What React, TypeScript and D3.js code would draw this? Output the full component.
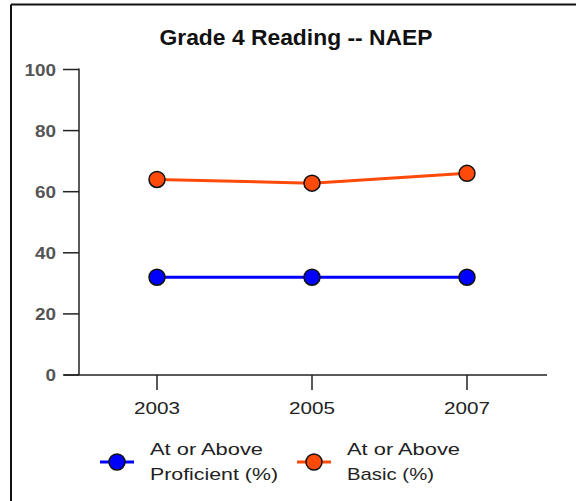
import React from 'react';
import * as d3 from 'd3';

// Chart data
const years = ['2003', '2005', '2007'];
const proficient = [32, 32, 32];
const basic = [64, 62.8, 66];
const yTicks = [0, 20, 40, 60, 80, 100];

const seriesList = [
  { name: ['At or Above', 'Proficient (%)'], values: proficient, color: '#0000ff' },
  { name: ['At or Above', 'Basic (%)'], values: basic, color: '#ff4a0a' },
];

const App = () => {
  const width = 576;
  const height = 501;

  // axis geometry
  const axisLeft = 79;
  const axisRight = 547;
  const y0 = 375;
  const y100 = 69.5;

  const xScale = d3.scalePoint<string>()
    .domain(years)
    .range([157, 467]);

  const yScale = d3.scaleLinear()
    .domain([0, 100])
    .range([y0, y100]);

  const line = d3.line<number>()
    .x((_, i) => xScale(years[i]) as number)
    .y(d => yScale(d));

  const font = '"Liberation Sans", Arial, Helvetica, sans-serif';

  return (
    <div style={{ position: 'fixed', left: 0, top: 0 }}>
      <svg width={width} height={height} style={{ display: 'block', background: '#fff' }}>
        {/* frame */}
        <line x1={11} y1={4.5} x2={width} y2={4.5} stroke="#111" strokeWidth={2} />
        <line x1={11} y1={4.5} x2={11} y2={height} stroke="#111" strokeWidth={2} />

        {/* title */}
        <text x={296} y={45} textAnchor="middle" fontFamily={font} fontWeight="bold"
          fontSize={22.5} fill="#111" textLength={273} lengthAdjust="spacingAndGlyphs">
          Grade 4 Reading -- NAEP
        </text>

        {/* y axis */}
        <line x1={axisLeft} y1={y100 - 1} x2={axisLeft} y2={y0} stroke="#222" strokeWidth={1.5} />
        {yTicks.map(t => (
          <g key={t} transform={`translate(0,${yScale(t)})`}>
            <line x1={63} x2={axisLeft} stroke="#222" strokeWidth={1.5} />
            <text x={56} y={6} textAnchor="end" fontFamily={font} fontWeight="bold"
              fontSize={16} fill="#555" textLength={String(t).length * 10.5}
              lengthAdjust="spacingAndGlyphs">{t}</text>
          </g>
        ))}

        {/* x axis */}
        <line x1={64} y1={y0} x2={axisRight} y2={y0} stroke="#222" strokeWidth={1.5} />
        {years.map(yr => (
          <g key={yr} transform={`translate(${xScale(yr)},${y0})`}>
            <line y1={0} y2={15} stroke="#222" strokeWidth={1.5} />
            <text y={39} textAnchor="middle" fontFamily={font} fontSize={17} fill="#222"
              textLength={46} lengthAdjust="spacingAndGlyphs">{yr}</text>
          </g>
        ))}

        {/* series */}
        {seriesList.map(s => (
          <g key={s.name[1]}>
            <path d={line(s.values) || ''} fill="none" stroke={s.color} strokeWidth={3} />
            {s.values.map((v, i) => (
              <circle key={i} cx={xScale(years[i])} cy={yScale(v)} r={8}
                fill={s.color} stroke="#111" strokeWidth={1.5} />
            ))}
          </g>
        ))}

        {/* legend */}
        {seriesList.map((s, i) => {
          const lx = 117 + i * 197;
          const ly = 462;
          return (
            <g key={'lg' + i}>
              <line x1={lx - 17} x2={lx + 17} y1={ly} y2={ly} stroke={s.color} strokeWidth={3} />
              <circle cx={lx} cy={ly} r={8} fill={s.color} stroke="#111" strokeWidth={1.5} />
              <text x={lx + 33} y={455} fontFamily={font} fontSize={17} fill="#222"
                textLength={113} lengthAdjust="spacingAndGlyphs">{s.name[0]}</text>
              <text x={lx + 33} y={480} fontFamily={font} fontSize={17} fill="#222"
                textLength={i === 0 ? 128 : 87} lengthAdjust="spacingAndGlyphs">{s.name[1]}</text>
            </g>
          );
        })}
      </svg>
    </div>
  );
};

export default App;
